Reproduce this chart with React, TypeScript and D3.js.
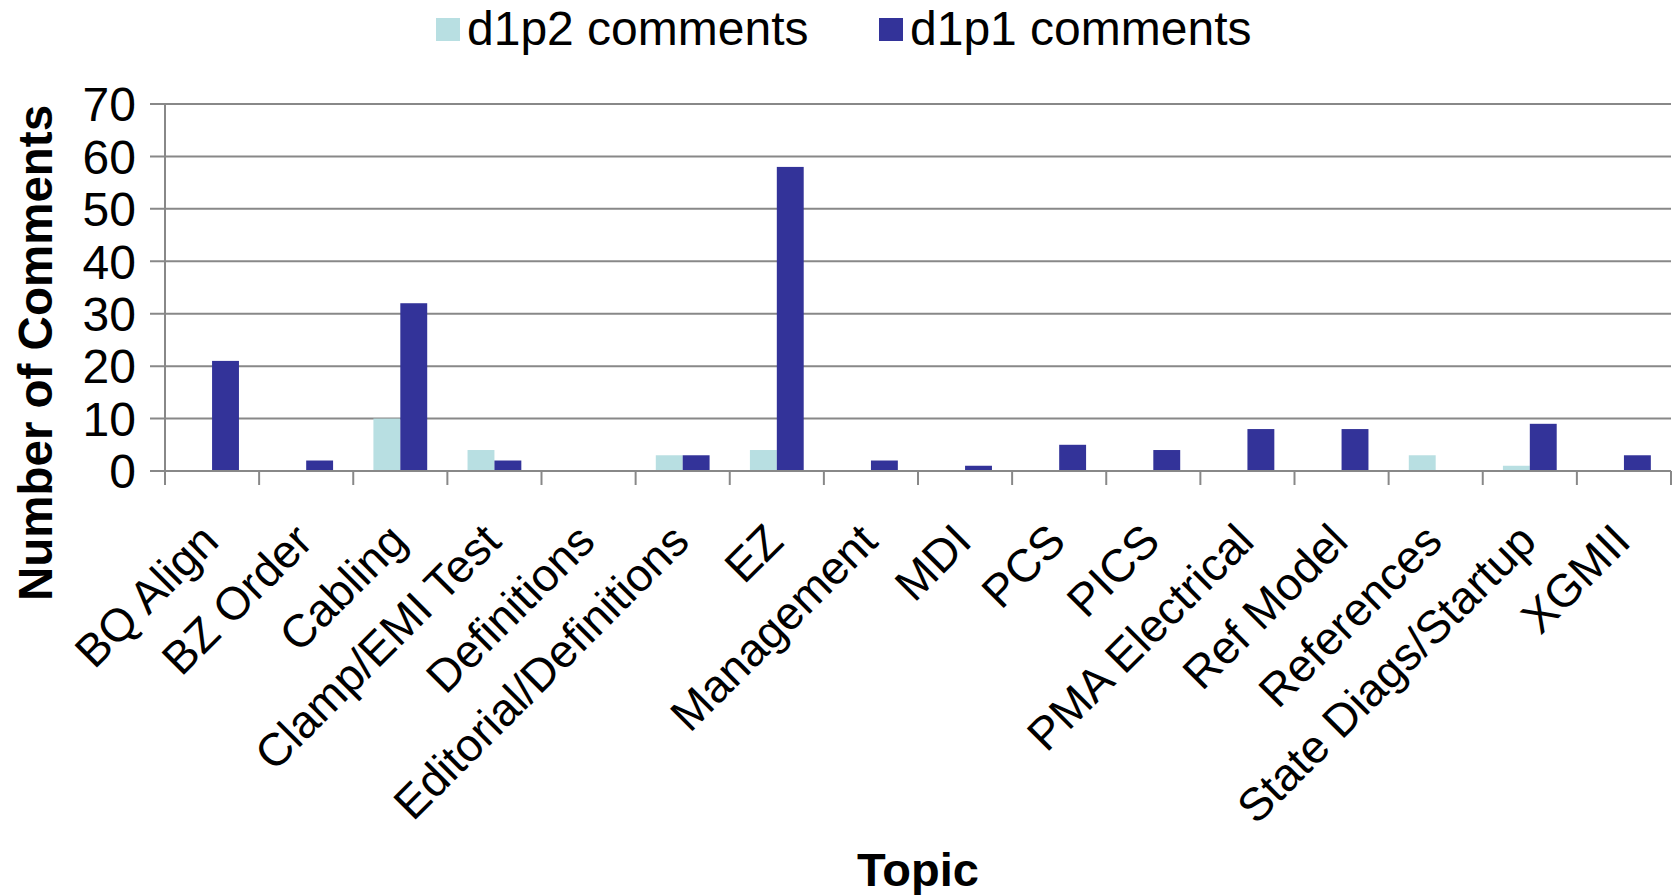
import React, { useEffect } from "react";
import * as d3 from "d3";

// Topics on the x axis
const topics = [
  "BQ Align",
  "BZ Order",
  "Cabling",
  "Clamp/EMI Test",
  "Definitions",
  "Editorial/Definitions",
  "EZ",
  "Management",
  "MDI",
  "PCS",
  "PICS",
  "PMA Electrical",
  "Ref Model",
  "References",
  "State Diags/Startup",
  "XGMII",
];

const seriesNames = ["d1p2 comments", "d1p1 comments"];
const seriesColors = ["#b8dfe2", "#333399"];

const d1p2 = [0, 0, 10, 4, 0, 3, 4, 0, 0, 0, 0, 0, 0, 3, 1, 0];
const d1p1 = [21, 2, 32, 2, 0, 3, 58, 2, 1, 5, 4, 8, 8, 0, 9, 3];

const yTicks = [0, 10, 20, 30, 40, 50, 60, 70];

const W = 1677;
const H = 895;
const FONT = "'Liberation Sans', Arial, sans-serif";
const GRID = "#888888";

export default function App() {
  useEffect(() => {
    document.body.style.margin = "0";
  }, []);

  const x = d3.scaleBand<string>().domain(topics).range([165, 1671]).paddingInner(0).paddingOuter(0);
  const xs = d3.scaleBand<string>().domain(seriesNames).range([0, x.bandwidth()]).paddingInner(0).paddingOuter(0.75);
  const y = d3.scaleLinear().domain([0, 70]).range([471, 104]);

  const values = [d1p2, d1p1];

  return (
    <svg width={W} height={H} style={{ display: "block", background: "#fff" }} fontFamily={FONT}>
      {/* gridlines + y ticks */}
      {yTicks.map((t) => (
        <g key={t}>
          <line x1={150} x2={1671} y1={y(t)} y2={y(t)} stroke={GRID} strokeWidth={2} />
          <text x={136} y={y(t)} dy="0.36em" textAnchor="end" fontSize={48}>
            {t}
          </text>
        </g>
      ))}

      {/* bars */}
      {values.map((vals, si) =>
        vals.map((v, i) =>
          v > 0 ? (
            <rect
              key={`${si}-${i}`}
              x={x(topics[i])! + xs(seriesNames[si])!}
              y={y(v)}
              width={xs.bandwidth()}
              height={y(0) - y(v)}
              fill={seriesColors[si]}
            />
          ) : null
        )
      )}

      {/* axis lines */}
      <line x1={165} x2={165} y1={104} y2={485} stroke={GRID} strokeWidth={2} />
      <line x1={150} x2={1671} y1={y(0)} y2={y(0)} stroke={GRID} strokeWidth={2} />

      {/* x ticks at band edges */}
      {topics.map((c) => (
        <line key={c} x1={x(c)! + x.bandwidth()} x2={x(c)! + x.bandwidth()} y1={y(0)} y2={485} stroke={GRID} strokeWidth={2} />
      ))}

      {/* category labels */}
      {topics.map((c) => (
        <text
          key={c}
          transform={`translate(${x(c)! + x.bandwidth() / 2 - 14},${y(0) + 50}) rotate(-45)`}
          textAnchor="end"
          dy="0.7em"
          fontSize={46}
        >
          {c}
        </text>
      ))}

      {/* axis titles */}
      <text transform="translate(52,353) rotate(-90)" textAnchor="middle" fontSize={47.5} fontWeight="bold">
        Number of Comments
      </text>
      <text x={918} y={886} textAnchor="middle" fontSize={47} fontWeight="bold">
        Topic
      </text>

      {/* legend */}
      {seriesNames.map((s, i) => {
        const lx = [436, 879][i];
        return (
          <g key={s}>
            <rect x={lx} y={18} width={24} height={23} fill={seriesColors[i]} />
            <text x={lx + 31} y={45} fontSize={48}>
              {s}
            </text>
          </g>
        );
      })}
    </svg>
  );
}
